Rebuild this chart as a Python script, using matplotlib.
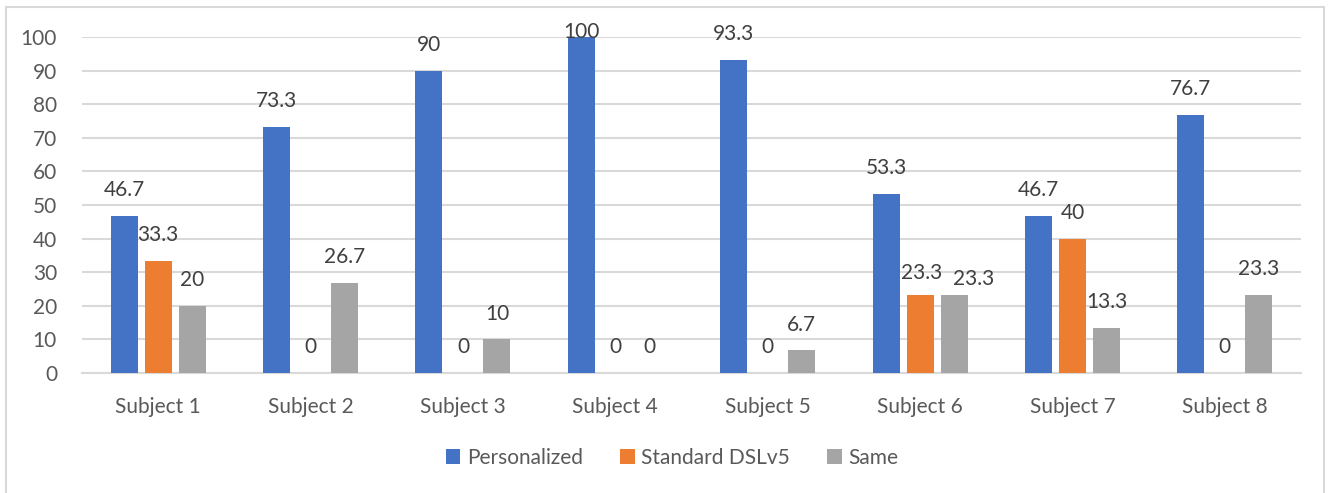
import numpy as np
import matplotlib.pyplot as plt
from matplotlib.patches import Rectangle

plt.rcParams["font.family"] = ["Lato", "DejaVu Sans"]

subjects = ["Subject 1", "Subject 2", "Subject 3", "Subject 4",
            "Subject 5", "Subject 6", "Subject 7", "Subject 8"]
series = ["Personalized", "Standard DSLv5", "Same"]
personalized = [46.7, 73.3, 90, 100, 93.3, 53.3, 46.7, 76.7]
standard = [33.3, 0, 0, 0, 0, 23.3, 40, 0]
same = [20, 26.7, 10, 0, 6.7, 23.3, 13.3, 23.3]
labels_pers = ["46.7", "73.3", "90", "100", "93.3", "53.3", "46.7", "76.7"]
labels_std = ["33.3", "0", "0", "0", "0", "23.3", "40", "0"]
labels_same = ["20", "26.7", "10", "0", "6.7", "23.3", "13.3", "23.3"]

colors = ["#4472C4", "#ED7D31", "#A5A5A5"]
grid_c = "#D9D9D9"
text_c = "#595959"
label_c = "#404040"
fs = 15

# small pixel nudges where the original moved colliding labels apart
nudge = {(1, 5): (2, -4), (2, 5): (20, -10)}

W, H = 1329, 493
fig = plt.figure(figsize=(W/100, H/100), dpi=100)
fig.patches.append(Rectangle((6/W, -0.01), (1324-6)/W, (H-7)/H + 0.01,
                             transform=fig.transFigure, fill=False,
                             edgecolor=grid_c, linewidth=1.5))

ax = fig.add_axes([82/W, (H-373)/H, (1301-82)/W, 336/H])
x = np.arange(len(subjects))
width = 0.177
step = 0.223
data = [personalized, standard, same]
labs = [labels_pers, labels_std, labels_same]

for i, (vals, lab, c, name) in enumerate(zip(data, labs, colors, series)):
    pos = x + (i - 1)*step
    ax.bar(pos, vals, width, color=c, label=name, zorder=3)
    for j, (p, v, t) in enumerate(zip(pos, vals, lab)):
        yl = min(v + 7.7, 101.4)
        ax.annotate(t, (p, yl), xytext=nudge.get((i, j), (0, 0)),
                    textcoords="offset pixels", ha="center", va="center",
                    fontsize=fs, color=label_c, annotation_clip=False,
                    zorder=4)

ax.set_xlim(-0.5, len(subjects) - 0.5)
ax.set_ylim(0, 100)
ax.set_yticks(range(0, 101, 10))
ax.yaxis.grid(True, color=grid_c, linewidth=1.5, zorder=0)
ax.set_axisbelow(True)
for s in ["top", "right", "left"]:
    ax.spines[s].set_visible(False)
ax.spines["bottom"].set_color(grid_c)
ax.spines["bottom"].set_linewidth(1.5)
ax.set_xticks(x)
ax.set_xticklabels(subjects)
ax.tick_params(axis="both", length=0, labelsize=fs, labelcolor=text_c)
ax.tick_params(axis="x", pad=17)
ax.tick_params(axis="y", pad=18)

fig.legend(loc="center", bbox_to_anchor=(672/W, (H-458)/H), ncol=3,
           frameon=False, fontsize=fs, labelcolor=text_c,
           handlelength=0.7, handleheight=0.7, handletextpad=0.3,
           columnspacing=1.8)

fig.savefig("out.png", dpi=100)
